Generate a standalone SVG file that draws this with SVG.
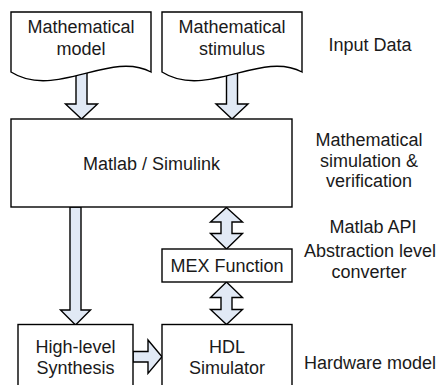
<svg xmlns="http://www.w3.org/2000/svg" width="439" height="385" viewBox="0 0 439 385">
<style>
.box{fill:#fff;stroke:#000;stroke-width:1.4}
.arr{fill:#E1E9F5;stroke:#000;stroke-width:1.4;stroke-linejoin:miter}
text{font-family:"Liberation Sans",Arial,sans-serif;font-size:18px;fill:#1a1a1a;text-anchor:middle}
</style>
<rect width="439" height="385" fill="#fff"/>
<g id="connectors">
<polygon class="arr" points="76,60 87,60 87,104 97.5,104 81.5,119 65.5,104 76,104"/>
<polygon class="arr" points="226.5,60 237.5,60 237.5,104 248,104 232,119 216,104 226.5,104"/>
<polygon class="arr" points="70,207 81,207 81,310 90.5,310 75.5,325 60.5,310 70,310"/>
<polygon class="arr" points="133,351.5 148,351.5 148,340 162,356.7 148,373.4 148,362 133,362"/>
<polygon class="arr" points="226.5,207.5 242.5,222 232,222 232,233.5 242.5,233.5 226.5,249 210.5,233.5 221,233.5 221,222 210.5,222"/>
<polygon class="arr" points="226.5,282 242.5,297.5 232,297.5 232,309.5 242.5,309.5 226.5,324.5 210.5,309.5 221,309.5 221,297.5 210.5,297.5"/>
</g>
<g id="doc-model">
<path class="box" d="M11,12 H151 V72 C110,50 55,100 11,72 Z"/>
<text x="81" y="32.5">Mathematical</text>
<text x="81" y="54.5">model</text>
</g>
<g id="doc-stimulus">
<path class="box" d="M162,12 H302 V72 C261,50 206,100 162,72 Z"/>
<text x="232" y="32.5">Mathematical</text>
<text x="232" y="54.5">stimulus</text>
</g>
<g id="matlab">
<rect class="box" x="11" y="119" width="281" height="88"/>
<text x="151.5" y="170">Matlab / Simulink</text>
</g>
<g id="mex">
<rect class="box" x="162" y="249" width="130" height="33"/>
<text x="227" y="272">MEX Function</text>
</g>
<g id="hls">
<rect class="box" x="18" y="324.5" width="115" height="70"/>
<text x="75.5" y="352.5">High-level</text>
<text x="75.5" y="374">Synthesis</text>
</g>
<g id="hdl">
<rect class="box" x="162" y="324.5" width="130" height="70"/>
<text x="227" y="352.5">HDL</text>
<text x="227" y="374">Simulator</text>
</g>
<g id="labels">
<text x="370" y="51">Input Data</text>
<text x="369" y="146">Mathematical</text>
<text x="369" y="166.5">simulation &amp;</text>
<text x="369" y="187">verification</text>
<text x="373" y="232.5">Matlab API</text>
<text x="370" y="256.5">Abstraction level</text>
<text x="369" y="278">converter</text>
<text x="370" y="369">Hardware model</text>
</g>
</svg>
